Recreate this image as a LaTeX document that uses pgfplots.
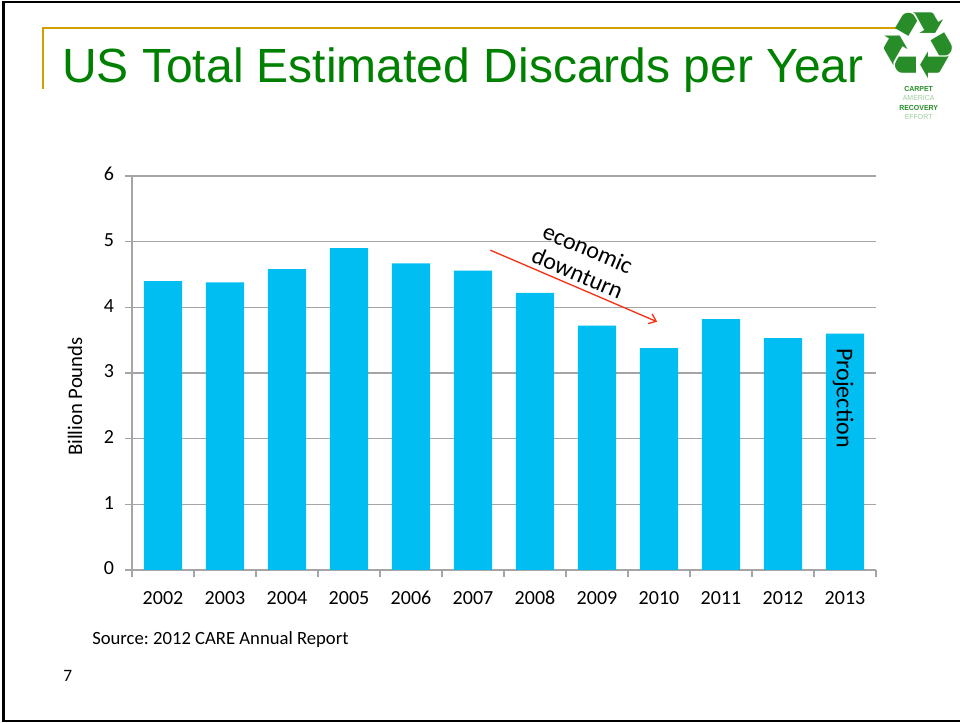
\documentclass[border=0pt]{standalone}
\usepackage{pgfplots}
\pgfplotsset{compat=1.18}
\usepackage{fontspec}
\setmainfont{Carlito}
\newfontfamily\titlefont{Liberation Sans}
\newfontfamily\symfont{DejaVu Sans}
\usetikzlibrary{arrows.meta}

\definecolor{barblue}{RGB}{0,190,242}
\definecolor{titlegreen}{RGB}{0,128,0}
\definecolor{gold}{RGB}{212,160,0}
\definecolor{gridgray}{RGB}{165,165,165}
\definecolor{arrowred}{RGB}{245,50,20}
\definecolor{logogreen}{RGB}{40,140,40}

\begin{document}
\begin{tikzpicture}
	\useasboundingbox (0,0) rectangle (720pt,542.25pt);
	% slide frame (right edge cut off)
	\draw[line width=1.6pt] (725pt,540.9pt) -- (2.6pt,540.9pt) -- (2.6pt,1.3pt) -- (725pt,1.3pt);
	% gold title rule
	\draw[gold, line width=1.5pt] (32.25pt,475.5pt) -- (32.25pt,521.25pt) -- (680pt,521.25pt);
	\node[anchor=base west, inner sep=0pt, text=titlegreen, font=\titlefont\fontsize{36}{40}\selectfont]
		at (46.5pt,480pt) {US Total Estimated Discards per Year};
	% logo
	\node[text=logogreen, font=\symfont\fontsize{70}{70}\selectfont, inner sep=0pt] at (688.5pt,508pt) {♻};
	\node[text=logogreen, font=\titlefont\bfseries\fontsize{5.5}{7.2}\selectfont, align=center, inner sep=0pt, xscale=0.95]
		at (689pt,465pt) {CARPET\\{\color{logogreen!45}\mdseries AMERICA}\\RECOVERY\\{\color{logogreen!45}\mdseries EFFORT}};
	% footer
	\node[anchor=base west, inner sep=0pt, font=\fontsize{14}{16}\selectfont] at (69pt,58.5pt) {Source:\ 2012 CARE Annual Report};
	\node[anchor=base west, inner sep=0pt, font=\fontsize{13}{15}\selectfont] at (47.25pt,30.75pt) {7};

	\begin{axis}[
			at={(99pt,114.75pt)}, anchor=south west,
			scale only axis,
			width=558pt, height=295.5pt,
			ybar, bar width=28.7pt,
			xmin=-0.5, xmax=11.5,
			ymin=0, ymax=6,
			ytick={0,1,2,3,4,5,6},
			xtick={-0.5,0.5,...,11.5},
			x tick label as interval,
			xticklabels={2002,2003,2004,2005,2006,2007,2008,2009,2010,2011,2012,2013},
			typeset ticklabels with strut,
			axis x line*=bottom, axis y line*=left,
			axis line style={gridgray, line width=0.8pt},
			tick align=outside,
			major tick length=5pt,
			major tick style={gridgray, line width=0.8pt},
			ymajorgrids,
			major grid style={gridgray, line width=0.8pt},
			ticklabel style={font=\fontsize{15}{18}\selectfont},
			/pgf/number format/assume math mode=true,
			xticklabel style={yshift=-5pt},
			yticklabel style={xshift=-5pt},
			ylabel={Billion Pounds},
			every axis y label/.style={at={(axis description cs:-0.0766,0.44)}, rotate=90, anchor=center,
					font=\fontsize{15.5}{18}\selectfont},
			clip=false,
		]
		\addplot[fill=barblue, draw=none] coordinates {
				(0,4.40) (1,4.38) (2,4.58) (3,4.90) (4,4.67) (5,4.56)
				(6,4.22) (7,3.72) (8,3.38) (9,3.82) (10,3.53) (11,3.60)
			};
		% annotations
		\draw[arrowred, line width=1pt, -{Straight Barb[length=5pt,width=8pt]}]
			(axis cs:5.28,4.87) -- (axis cs:7.97,3.78);
		\node[rotate=-23, align=center, font=\fontsize{18}{20}\selectfont, inner sep=0pt]
			at (axis cs:6.77,4.71) {economic\\downturn};
		\node[rotate=-90, font=\fontsize{18}{20}\selectfont, inner sep=0pt]
			at (axis cs:10.97,2.62) {Projection};
	\end{axis}
\end{tikzpicture}
\end{document}
